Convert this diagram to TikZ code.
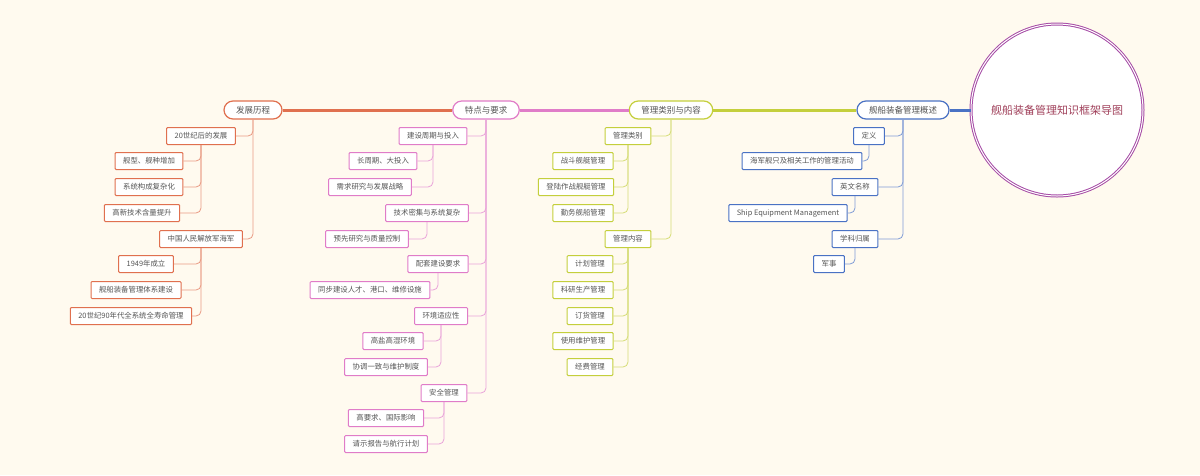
\documentclass[tikz,border=0pt]{standalone}
\usepackage{fontspec}
\newfontfamily\cjk{Noto Sans CJK SC}
\definecolor{bgc}{HTML}{FFFAEF}
\definecolor{blu}{HTML}{4A72C4}
\definecolor{olv}{HTML}{C4CF3C}
\definecolor{pnk}{HTML}{E07CC8}
\definecolor{org}{HTML}{E0704F}
\definecolor{txt}{HTML}{555555}
\definecolor{rtxt}{HTML}{A0405A}
\begin{document}
\begin{tikzpicture}[
    x=1pt, y=-1pt,
    main/.style={draw=#1, line width=1.2pt, fill=white, rounded corners=9pt, minimum height=18pt,
        inner xsep=12pt, inner ysep=0pt, font=\cjk\fontsize{8.5}{9}\selectfont, text=txt},
    leaf/.style={draw=#1, line width=1pt, fill=white, minimum height=17pt, inner xsep=8pt,
        inner ysep=0pt, rounded corners=1pt, font=\cjk\fontsize{7.4}{8}\selectfont, text=txt},
    trunk/.style={draw=#1, line width=3pt},
    twig/.style={draw=#1!70, line width=0.8pt, rounded corners=5pt},
]
    \fill[bgc] (0,0) rectangle (1200,475);
    \useasboundingbox (0,0) rectangle (1200,475);

    % Root
    \node[circle, draw=violet!70, double=white, double distance=1pt, line width=1pt, fill=white,
        minimum size=172pt, font=\cjk\fontsize{11}{12}\selectfont, text=rtxt] (root) at (1057,110) {舰船装备管理知识框架导图};

    % Main branches
    \node[main=blu] (ovw) at (903,110) {舰船装备管理概述};
    \node[main=olv] (cat) at (671,110) {管理类别与内容};
    \node[main=pnk] (feat) at (486,110) {特点与要求};
    \node[main=org] (hist) at (253,110) {发展历程};
    \draw[trunk=blu] (root) -- (ovw);
    \draw[trunk=olv] (ovw) -- (cat);
    \draw[trunk=pnk] (cat) -- (feat);
    \draw[trunk=org] (feat) -- (hist);

    % Overview
    \node[leaf=blu] (def) at (869,136) {定义};
    \node[leaf=blu] (defa) at (802,161) {海军舰只及相关工作的管理活动};
    \node[leaf=blu] (eng) at (855,187) {英文名称};
    \node[leaf=blu] (enga) at (788,213) {Ship Equipment Management};
    \node[leaf=blu] (disc) at (855,239) {学科归属};
    \node[leaf=blu] (disca) at (829,264) {军事};
    \foreach \c in {def,eng,disc} \draw[twig=blu] (ovw.south) |- (\c.east);
    \draw[twig=blu] (def.south) |- (defa.east);
    \draw[twig=blu] (eng.south) |- (enga.east);
    \draw[twig=blu] (disc.south) |- (disca.east);

    % Categories and content
    \node[leaf=olv] (kind) at (628,136) {管理类别};
    \node[leaf=olv] (k1) at (583,161) {战斗舰艇管理};
    \node[leaf=olv] (k2) at (576,187) {登陆作战舰艇管理};
    \node[leaf=olv] (k3) at (583,213) {勤务舰船管理};
    \node[leaf=olv] (cont) at (628,239) {管理内容};
    \node[leaf=olv] (c1) at (590,264) {计划管理};
    \node[leaf=olv] (c2) at (583,290) {科研生产管理};
    \node[leaf=olv] (c3) at (590,316) {订货管理};
    \node[leaf=olv] (c4) at (583,341) {使用维护管理};
    \node[leaf=olv] (c5) at (590,367) {经费管理};
    \foreach \c in {kind,cont} \draw[twig=olv] (cat.south) |- (\c.east);
    \foreach \c in {k1,k2,k3} \draw[twig=olv] (kind.south) |- (\c.east);
    \foreach \c in {c1,c2,c3,c4,c5} \draw[twig=olv] (cont.south) |- (\c.east);

    % Features and requirements
    \node[leaf=pnk] (f1) at (433,136) {建设周期与投入};
    \node[leaf=pnk] (f1a) at (383,161) {长周期、大投入};
    \node[leaf=pnk] (f1b) at (370,187) {需求研究与发展战略};
    \node[leaf=pnk] (f2) at (427,213) {技术密集与系统复杂};
    \node[leaf=pnk] (f2a) at (367,239) {预先研究与质量控制};
    \node[leaf=pnk] (f3) at (438,264) {配套建设要求};
    \node[leaf=pnk] (f3a) at (370,290) {同步建设人才、港口、维修设施};
    \node[leaf=pnk] (f4) at (441,316) {环境适应性};
    \node[leaf=pnk] (f4a) at (393,341) {高盐高湿环境};
    \node[leaf=pnk] (f4b) at (386,367) {协调一致与维护制度};
    \node[leaf=pnk] (f5) at (444,393) {安全管理};
    \node[leaf=pnk] (f5a) at (386,418) {高要求、国际影响};
    \node[leaf=pnk] (f5b) at (386,444) {请示报告与航行计划};
    \foreach \c in {f1,f2,f3,f4,f5} \draw[twig=pnk] (feat.south) |- (\c.east);
    \foreach \p/\c in {f1/f1a,f1/f1b,f2/f2a,f3/f3a,f4/f4a,f4/f4b,f5/f5a,f5/f5b}
        \draw[twig=pnk] (\p.south) |- (\c.east);

    % History
    \node[leaf=org] (h1) at (201,136) {20世纪后的发展};
    \node[leaf=org] (h1a) at (149,161) {舰型、舰种增加};
    \node[leaf=org] (h1b) at (149,187) {系统构成复杂化};
    \node[leaf=org] (h1c) at (142,213) {高新技术含量提升};
    \node[leaf=org] (h2) at (201,239) {中国人民解放军海军};
    \node[leaf=org] (h2a) at (146,264) {1949年成立};
    \node[leaf=org] (h2b) at (136,290) {舰船装备管理体系建设};
    \node[leaf=org] (h2c) at (131,316) {20世纪90年代全系统全寿命管理};
    \foreach \c in {h1,h2} \draw[twig=org] (hist.south) |- (\c.east);
    \foreach \c in {h1a,h1b,h1c} \draw[twig=org] (h1.south) |- (\c.east);
    \foreach \c in {h2a,h2b,h2c} \draw[twig=org] (h2.south) |- (\c.east);
\end{tikzpicture}
\end{document}
